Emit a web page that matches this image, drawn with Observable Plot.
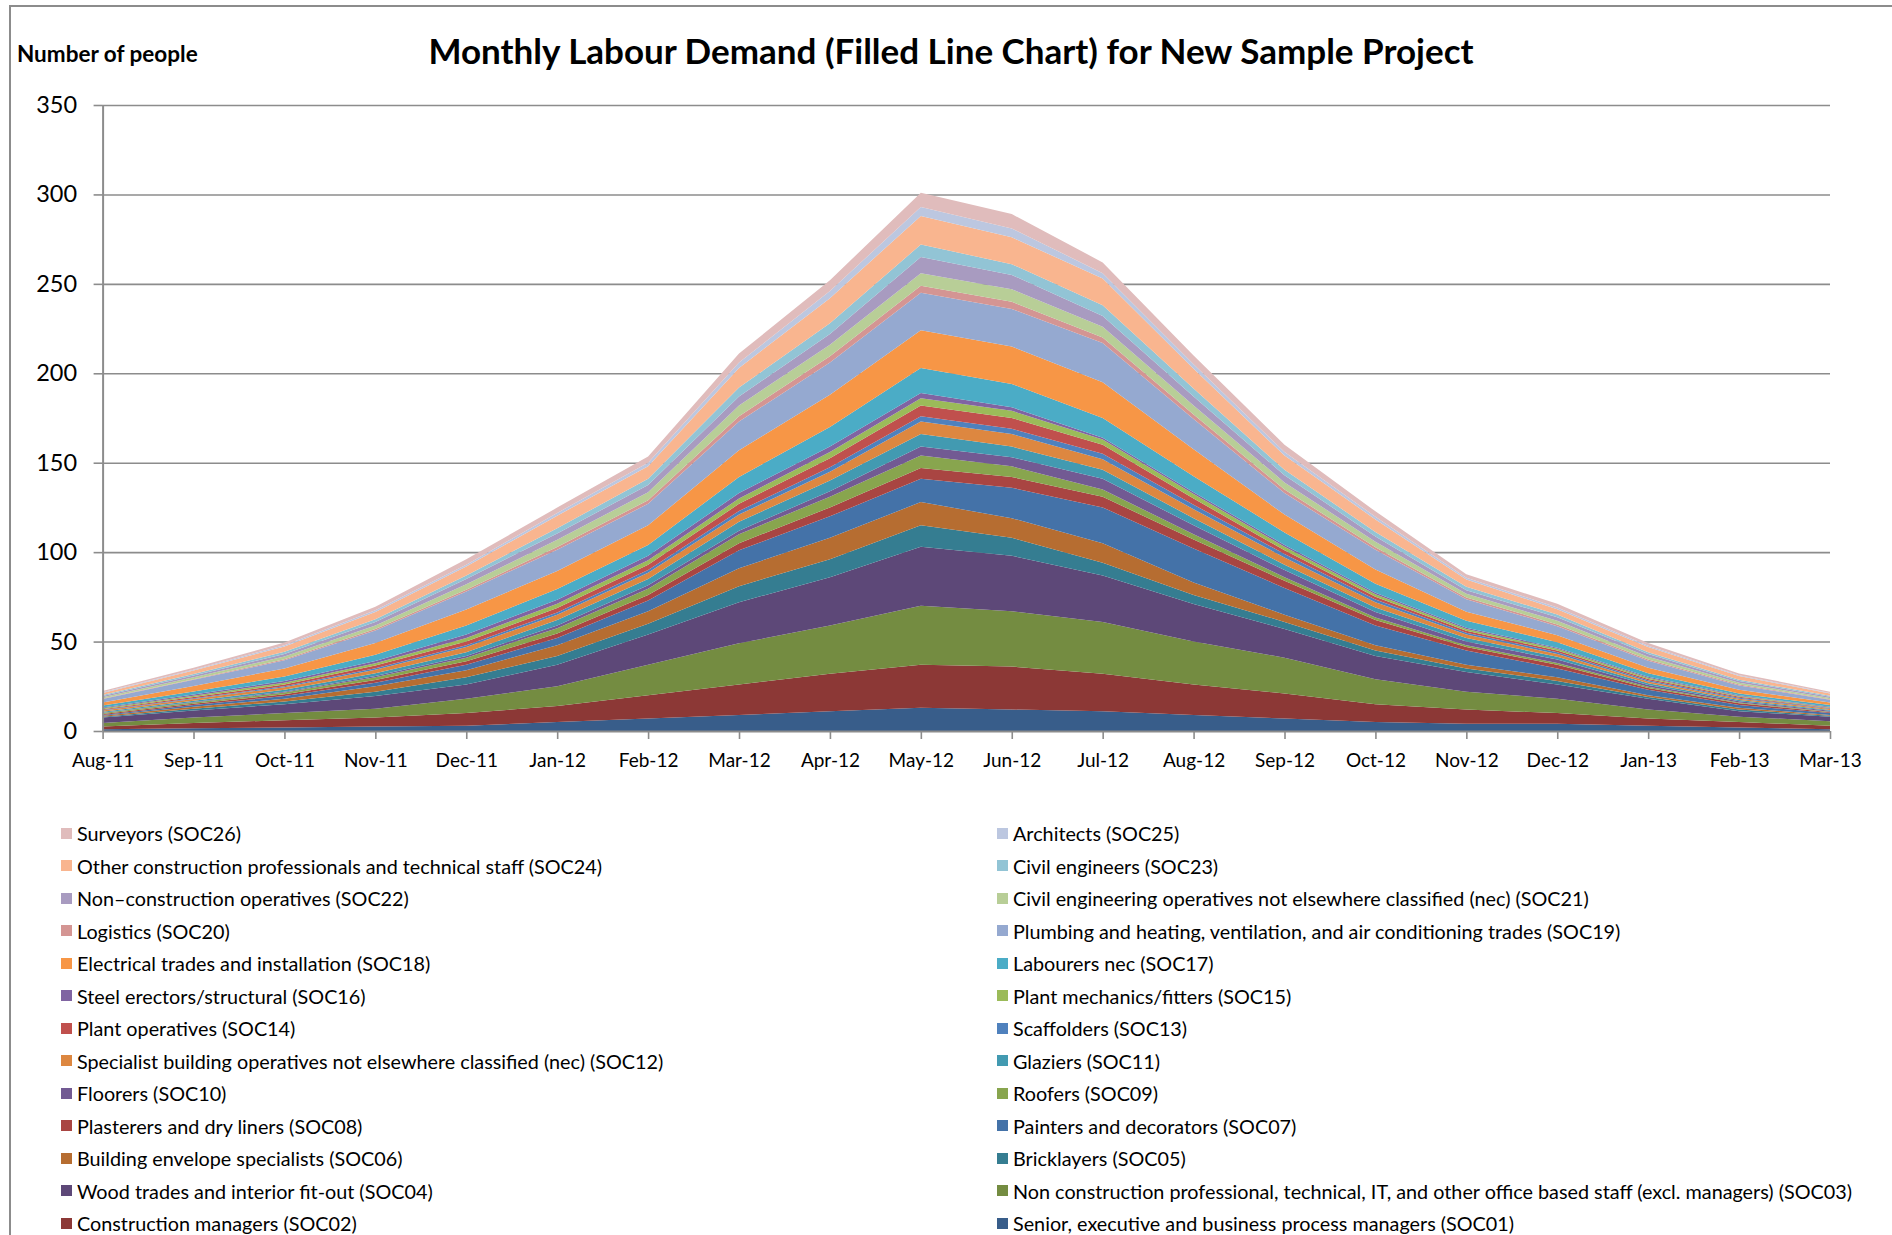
<!DOCTYPE html>
<html>
<head>
<meta charset="utf-8">
<script src="https://cdn.jsdelivr.net/npm/d3@7"></script>
<script src="https://cdn.jsdelivr.net/npm/@observablehq/plot@0.6"></script>
<style>
  html, body { margin: 0; padding: 0; background: #fff; }
  #wrap { position: relative; width: 1892px; height: 1235px; overflow: hidden; font-family: Lato, "Open Sans", sans-serif; color: #000; }
  #frame { position: absolute; left: 9px; top: 5px; width: 1900px; height: 1300px; border-left: 2px solid #8c8c8c; border-top: 2px solid #8c8c8c; }
  #ylab { position: absolute; left: 17px; top: 40px; font-weight: 700; font-size: 22.5px; white-space: nowrap; }
  #title { position: absolute; left: 0; width: 1902px; top: 29px; text-align: center; font-weight: 700; font-size: 35px; white-space: nowrap; }
  #chart { position: absolute; left: 0; top: 0; }
  .lg { position: absolute; display: flex; align-items: center; font-size: 19.8px; white-space: nowrap; }
  .sw { width: 11px; height: 11px; margin-right: 5px; flex: none; }
</style>
</head>
<body>
<div id="wrap">
  <div id="frame"></div>
  <div id="chart"></div>
  <div id="ylab">Number of people</div>
  <div id="title">Monthly Labour Demand (Filled Line Chart) for New Sample Project</div>
  <div id="legend"></div>
</div>
<script>
const months = ["Aug-11","Sep-11","Oct-11","Nov-11","Dec-11","Jan-12","Feb-12","Mar-12","Apr-12","May-12","Jun-12","Jul-12","Aug-12","Sep-12","Oct-12","Nov-12","Dec-12","Jan-13","Feb-13","Mar-13"];
const yTicks = [0, 50, 100, 150, 200, 250, 300, 350];

const seriesNames = [
  "Senior, executive and business process managers (SOC01)",
  "Construction managers (SOC02)",
  "Non construction professional, technical, IT, and other office based staff (excl. managers) (SOC03)",
  "Wood trades and interior fit-out (SOC04)",
  "Bricklayers (SOC05)",
  "Building envelope specialists (SOC06)",
  "Painters and decorators (SOC07)",
  "Plasterers and dry liners (SOC08)",
  "Roofers (SOC09)",
  "Floorers (SOC10)",
  "Glaziers (SOC11)",
  "Specialist building operatives not elsewhere classified (nec) (SOC12)",
  "Scaffolders (SOC13)",
  "Plant operatives (SOC14)",
  "Plant mechanics/fitters (SOC15)",
  "Steel erectors/structural (SOC16)",
  "Labourers nec (SOC17)",
  "Electrical trades and installation (SOC18)",
  "Plumbing and heating, ventilation, and air conditioning trades (SOC19)",
  "Logistics (SOC20)",
  "Civil engineering operatives not elsewhere classified (nec) (SOC21)",
  "Non\u2013construction operatives (SOC22)",
  "Civil engineers (SOC23)",
  "Other construction professionals and technical staff (SOC24)",
  "Architects (SOC25)",
  "Surveyors (SOC26)"
];

const seriesColors = [
  "#385d8a", "#8c3836", "#748c41", "#5d4878", "#357d91", "#b66d31",
  "#4472a8", "#a94542", "#88a54e", "#725a93", "#429ab1", "#dd8740",
  "#4f81bd", "#c0504d", "#9bbb59", "#8064a2", "#4bacc6", "#f79646",
  "#95a9d0", "#d49593", "#b8ce97", "#a89bc0", "#92c4d5", "#f9b58f",
  "#bcc7e0", "#e0bcbc"
];

const soc01 = [1, 1.5, 2, 2.5, 3, 5, 7, 9, 11, 13, 12, 11, 9, 7, 5, 4, 4, 3, 2, 1];
const soc02 = [1.5, 3, 4, 5, 7, 9, 13, 17, 21, 24, 24, 21, 17, 14, 10, 8, 6, 4, 3, 2];
const soc03 = [2, 3, 4, 5, 8, 11, 17, 23, 27, 33, 31, 29, 24, 20, 14, 10, 8, 5, 3, 2.5];
const soc04 = [3, 4, 5, 7, 8, 12, 17, 23, 27, 33, 31, 26, 21, 16, 13, 11, 8, 6, 3, 2.5];
const soc05 = [0.5, 1, 1.5, 2.5, 4, 5, 6, 9, 10, 12, 10, 7, 5, 4, 3, 2, 2, 1, 1, 0.5];
const soc06 = [0.5, 1, 1.5, 3, 4, 6, 7, 10, 12, 13, 11, 11, 7, 4, 3, 2, 2, 1, 1, 0.5];
const soc07 = [0.5, 1, 1.5, 2, 3, 4, 6, 10, 12, 13, 17, 20, 19, 15, 11, 8, 5, 3, 1.5, 1];
const soc08 = [0.5, 0.7, 1, 1.5, 2, 2.5, 3, 4, 5, 6, 6, 6, 5, 4, 3, 2, 2, 1, 1, 0.5];
const soc09 = [0.5, 0.7, 1, 1.5, 2, 3, 3.5, 5, 6, 7, 6, 4, 3, 2, 1.5, 1, 1, 0.7, 0.5, 0.3];
const soc10 = [0.2, 0.3, 0.5, 0.8, 1, 1.5, 2, 2, 3, 5, 5, 6, 5, 4, 3, 2, 2, 1, 0.7, 0.5];
const soc11 = [0.5, 0.7, 1, 1.5, 2, 3, 3.5, 5, 6, 7, 6, 5, 4, 3, 2.5, 2, 1.5, 1, 0.7, 0.5];
const soc12 = [0.7, 1, 1.5, 2, 3, 3, 3.5, 4, 5, 7, 7, 6, 5, 4, 3, 2, 1.5, 1, 0.7, 0.5];
const soc13 = [0.3, 0.4, 0.5, 0.8, 1, 1.3, 1.5, 2, 2.5, 3, 3, 3, 2.5, 2, 1.5, 1, 1, 0.7, 0.5, 0.3];
const soc14 = [0.5, 0.7, 1, 1.5, 2, 2.5, 3, 4, 5, 6, 6, 5, 3.5, 2, 1.5, 1, 1, 0.7, 0.5, 0.3];
const soc15 = [0.5, 0.7, 1, 1.3, 2, 2.3, 2.5, 3, 3.5, 4, 4, 3, 2.5, 2, 1.5, 1, 1, 0.7, 0.5, 0.3];
const soc16 = [0.5, 0.7, 1, 1.3, 2, 2.3, 2.5, 3, 3, 3, 2, 1, 1, 1, 0.8, 0.7, 0.6, 0.5, 0.4, 0.3];
const soc17 = [1, 1.7, 2.5, 3.5, 5, 6, 6, 9, 11, 14, 13, 11, 9, 7, 5, 4, 3, 2, 1, 1];
const soc18 = [1.7, 3, 4.5, 6.5, 9, 10, 11, 15, 18, 21, 21, 20, 15, 10, 8, 5, 4, 3, 2, 1.5];
const soc19 = [2, 3.5, 4.5, 7, 10, 12, 12, 16, 18, 21, 21, 22, 17, 12, 11, 7, 5, 4, 2.5, 1.5];
const soc20 = [0.3, 0.4, 0.6, 0.8, 1, 1.5, 2, 3, 3.5, 4, 4, 3, 2.5, 2, 1.5, 1, 1, 0.7, 0.5, 0.3];
const soc21 = [0.7, 1, 1.5, 2, 3, 4, 4.5, 6, 6.5, 7, 7, 6, 5, 4, 3, 2, 2, 1.5, 1, 0.7];
const soc22 = [0.7, 1, 1.5, 2, 3, 3.5, 4, 5, 6, 9, 8, 6, 5, 4, 3, 2, 2, 1.5, 1, 0.7];
const soc23 = [0.5, 0.8, 1.2, 1.5, 2, 3, 3.5, 5, 6, 7, 6, 6, 4.5, 3, 2.5, 2, 1.5, 1, 0.7, 0.5];
const soc24 = [1.2, 2, 3, 4, 5, 7, 7, 11, 14, 16, 15, 15, 11, 8, 7, 4, 3, 3, 2, 1.3];
const soc25 = [0.3, 0.5, 0.7, 1, 1, 1.5, 2, 3, 4, 5, 5, 3, 2.5, 2, 1.5, 1, 1, 0.7, 0.5, 0.3];
const soc26 = [0.7, 1, 1.5, 2, 3, 3, 3.5, 5, 6, 8, 8, 6, 5, 4, 3, 2, 2, 1.5, 1, 0.7];

const seriesValues = [soc01, soc02, soc03, soc04, soc05, soc06, soc07, soc08, soc09, soc10, soc11, soc12, soc13,
                      soc14, soc15, soc16, soc17, soc18, soc19, soc20, soc21, soc22, soc23, soc24, soc25, soc26];

const data = [];
seriesNames.forEach((name, s) => {
  months.forEach((m, i) => data.push({series: name, i, value: seriesValues[s][i]}));
});

const grid = "#8c8c8c";
const chart = Plot.plot({
  width: 1892,
  height: 790,
  marginLeft: 102.6,
  marginRight: 62,
  marginTop: 105,
  marginBottom: 59,
  style: {fontFamily: "Lato, 'Open Sans', sans-serif", color: "#000", background: "transparent"},
  x: {domain: [0, months.length - 1], label: null},
  y: {domain: [0, 350], label: null},
  color: {domain: seriesNames, range: seriesColors},
  marks: [
    Plot.ruleY(yTicks.filter(t => t > 0), {stroke: grid, strokeWidth: 1.6}),
    Plot.areaY(data, {x: "i", y: "value", fill: "series", z: "series", curve: "linear"}),
    Plot.ruleY([0], {stroke: grid, strokeWidth: 2}),
    Plot.ruleX([0], {stroke: grid, strokeWidth: 2}),
    Plot.axisY({ticks: yTicks, tickSize: 9, tickPadding: 17, fontSize: 23.5, stroke: grid, strokeWidth: 1.6, fill: "#000", label: null}),
    Plot.axisX({ticks: d3.range(months.length), tickFormat: i => months[i], tickSize: 8, tickPadding: 14, fontSize: 19, stroke: grid, strokeWidth: 1.6, fill: "#000", label: null})
  ]
});
document.getElementById("chart").appendChild(chart);

const legend = document.getElementById("legend");
const order = seriesNames.map((n, s) => s).reverse();
order.forEach((s, j) => {
  const row = Math.floor(j / 2), col = j % 2;
  const el = document.createElement("div");
  el.className = "lg";
  el.style.left = (col ? 997 : 61) + "px";
  el.style.top = (833 + row * 32.5 - 12) + "px";
  el.style.height = "24px";
  const sw = document.createElement("span");
  sw.className = "sw";
  sw.style.background = seriesColors[s];
  const tx = document.createElement("span");
  tx.textContent = seriesNames[s];
  el.appendChild(sw);
  el.appendChild(tx);
  legend.appendChild(el);
});
</script>
</body>
</html>
